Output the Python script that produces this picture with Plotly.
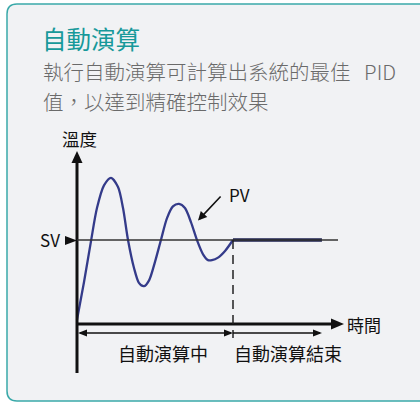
import plotly.graph_objects as go

# ---- data (time in s, temperature in arbitrary units, SV = 100) ----
pv_time = [0, 4.5, 9, 12.8, 17.3, 21.8, 26.3, 29.5, 32.7, 36.5, 39.7, 42.9, 46.2, 50,
           53.8, 57.7, 61.5, 65.4, 69.2, 73.1, 76.9, 80.8, 84, 86.5, 90.4, 94.9, 100]
pv_temp = [5, 50, 99, 138, 165, 174, 163, 138, 100, 67, 49, 45, 52, 74,
           100, 126, 140, 143, 138, 121, 100, 83, 76, 76, 79, 87, 100]
flat_time = [100, 157]
flat_temp = [100, 100]
sv_value = 100
tuning_end = 100
phase_labels = ["自動演算中", "自動演算結束"]

W, H = 420, 402
X0PX, XS = 77, 1.56      # pixel of t=0, px per second
Y0PX, YS = 324, 0.84     # pixel of temp=0, px per unit


def X(px):
    return (px - X0PX) / XS


def Y(py):
    return (Y0PX - py) / YS


def PX(px):
    return px / W


def PY(py):
    return 1 - py / H


FONT = "Noto Sans CJK TC, Noto Sans, sans-serif"
fig = go.Figure()

# card background
r = 10
x0, y0, x1, y1 = 7, 4, 440, 401
path = (f"M {PX(x0+r)},{PY(y0)} L {PX(x1)},{PY(y0)} L {PX(x1)},{PY(y1)} "
        f"L {PX(x0+r)},{PY(y1)} Q {PX(x0)},{PY(y1)} {PX(x0)},{PY(y1-r)} "
        f"L {PX(x0)},{PY(y0+r)} Q {PX(x0)},{PY(y0)} {PX(x0+r)},{PY(y0)} Z")
shapes = [dict(type="path", xref="paper", yref="paper", path=path,
               fillcolor="#f1f2f4", line=dict(color="#3aa9a9", width=1.5), layer="below")]

black = "#111111"
# y axis
shapes.append(dict(type="line", xref="x", yref="y", x0=X(77), x1=X(77), y0=Y(373), y1=Y(160),
                   line=dict(color=black, width=3)))
# x axis
shapes.append(dict(type="line", xref="x", yref="y", x0=X(77), x1=X(333), y0=Y(324), y1=Y(324),
                   line=dict(color=black, width=3)))
# SV line
shapes.append(dict(type="line", xref="x", yref="y", x0=X(77), x1=X(338), y0=sv_value, y1=sv_value,
                   line=dict(color="#333333", width=1.5)))
# dashed line at end of tuning
shapes.append(dict(type="line", xref="x", yref="y", x0=tuning_end, x1=tuning_end, y0=sv_value, y1=Y(338),
                   line=dict(color="#222222", width=1.5, dash="9px,6px")))
# phase double arrows lines
shapes.append(dict(type="line", xref="x", yref="y", x0=X(80), x1=X(231), y0=Y(333), y1=Y(333),
                   line=dict(color=black, width=1.5)))
shapes.append(dict(type="line", xref="x", yref="y", x0=X(233), x1=X(320), y0=Y(333), y1=Y(333),
                   line=dict(color=black, width=1.5)))


def tri(pts):
    p = "M " + " L ".join(f"{X(a)},{Y(b)}" for a, b in pts) + " Z"
    return dict(type="path", xref="x", yref="y", path=p, fillcolor=black, line=dict(width=0))


shapes += [
    tri([(77, 151), (71.5, 163), (82.5, 163)]),          # y axis head
    tri([(344, 324), (331, 318.5), (331, 329.5)]),        # x axis head
    tri([(77, 240.5), (65, 236), (65, 245)]),             # SV marker
    tri([(78, 333), (87, 329.5), (87, 336.5)]),           # left arrow head
    tri([(233, 333), (224, 329.5), (224, 336.5)]),
    tri([(322, 333), (313, 329.5), (313, 336.5)]),
]

fig.add_trace(go.Scatter(x=pv_time, y=pv_temp, mode="lines",
                         line=dict(color="#343b8a", width=2.3, shape="spline", smoothing=0.8),
                         hoverinfo="skip", showlegend=False))
fig.add_trace(go.Scatter(x=flat_time, y=flat_temp, mode="lines",
                         line=dict(color="#1c2150", width=3.5),
                         hoverinfo="skip", showlegend=False))

ann = []


def txt(t, x, y, size, color, xanchor="center", weight=400):
    ann.append(dict(text=t, xref="paper", yref="paper", x=PX(x), y=PY(y), xanchor=xanchor,
                    yanchor="middle", showarrow=False, align="left",
                    font=dict(family=FONT, size=size, color=color, weight=weight)))


txt("自動演算", 40, 38, 24.5, "#17999a", "left")
txt("執行自動演算可計算出系統的最佳   PID", 41, 70.5, 20.5, "#6a6a6a", "left", 300)
txt("值，以達到精確控制效果", 41, 100.5, 20.5, "#6a6a6a", "left", 300)
txt("溫度", 79, 138, 17.5, "#111111")
txt("SV", 50, 240, 17, "#111111")
txt("PV", 239, 194, 17, "#111111")
txt("時間", 364, 324, 17, "#111111")
txt(phase_labels[0], 163, 353, 18, "#111111")
txt(phase_labels[1], 288, 353, 18, "#111111")

ann.append(dict(x=X(198), y=Y(220.5), ax=X(222), ay=Y(195), xref="x", yref="y", axref="x", ayref="y",
                text="", showarrow=True, arrowhead=2, arrowsize=1.1, arrowwidth=1.6,
                arrowcolor=black, standoff=0))

fig.update_layout(
    width=W, height=H, autosize=False, margin=dict(l=0, r=0, t=0, b=0),
    paper_bgcolor="white", plot_bgcolor="rgba(0,0,0,0)",
    xaxis=dict(range=[X(0), X(W)], visible=False, fixedrange=True),
    yaxis=dict(range=[Y(H), Y(0)], visible=False, fixedrange=True),
    shapes=shapes, annotations=ann, showlegend=False,
)
fig.write_html("out.html", config={"displayModeBar": False},
               post_script="document.body.style.margin='0';document.body.style.overflow='hidden';")
